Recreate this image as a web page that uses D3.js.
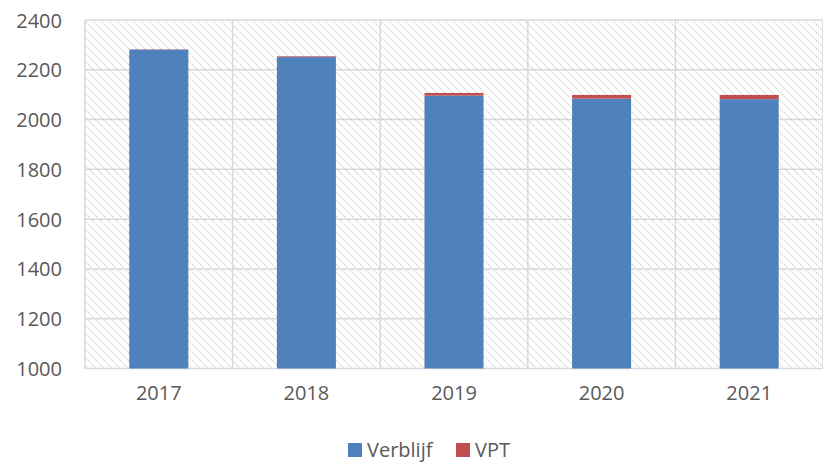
<!DOCTYPE html>
<html>
<head>
<meta charset="utf-8">
<script src="https://cdn.jsdelivr.net/npm/d3@7"></script>
<style>
  html, body { margin: 0; padding: 0; background: #fff; }
  svg text { font-family: "Open Sans", "Noto Sans", sans-serif; fill: #595959; }
</style>
</head>
<body>
<svg id="chart" width="823" height="464"></svg>
<script>
// Chart data
const years = ["2017", "2018", "2019", "2020", "2021"];
const verblijf = [2281, 2251, 2096, 2084, 2082];
const vpt = [1, 3, 11, 15, 17];
const yTicks = [1000, 1200, 1400, 1600, 1800, 2000, 2200, 2400];
const seriesNames = ["Verblijf", "VPT"];
const seriesColors = ["#4f81bd", "#c0504d"];

const svg = d3.select("#chart");
const plot = { left: 85, right: 823, top: 20, bottom: 368.5 };

// Diagonal hatch for plot background
const defs = svg.append("defs");
const pat = defs.append("pattern")
  .attr("id", "hatch")
  .attr("patternUnits", "userSpaceOnUse")
  .attr("width", 8).attr("height", 8);
pat.append("path")
  .attr("d", "M-2,-2 L10,10 M-2,6 L2,10 M6,-2 L10,2")
  .attr("stroke", "#cfcfcf")
  .attr("stroke-width", 1.4)
  .attr("stroke-dasharray", "1.4,1.4");

const x = d3.scaleBand()
  .domain(years)
  .range([plot.left, plot.right])
  .paddingInner(0.6)
  .paddingOuter(0.3);

const y = d3.scaleLinear()
  .domain([1000, 2400])
  .range([plot.bottom, plot.top]);

svg.append("rect")
  .attr("x", plot.left).attr("y", plot.top)
  .attr("width", plot.right - plot.left)
  .attr("height", plot.bottom - plot.top)
  .attr("fill", "url(#hatch)");

// Horizontal gridlines
svg.append("g")
  .selectAll("line")
  .data(yTicks)
  .join("line")
  .attr("x1", plot.left).attr("x2", plot.right)
  .attr("y1", d => y(d)).attr("y2", d => y(d))
  .attr("stroke", "#d9d9d9")
  .attr("stroke-width", 1.5);

// Vertical gridlines at category boundaries
const step = x.step();
const bounds = d3.range(years.length + 1).map(i => plot.left + i * step);
svg.append("g")
  .selectAll("line")
  .data(bounds)
  .join("line")
  .attr("x1", d => d).attr("x2", d => d)
  .attr("y1", plot.top).attr("y2", plot.bottom)
  .attr("stroke", "#d9d9d9")
  .attr("stroke-width", 1.5);

// Stacked bars
const rows = years.map((yr, i) => ({ year: yr, Verblijf: verblijf[i], VPT: vpt[i] }));
const stack = d3.stack().keys(seriesNames);
const layers = stack(rows);

svg.append("g")
  .selectAll("g")
  .data(layers)
  .join("g")
  .attr("fill", (d, i) => seriesColors[i])
  .selectAll("rect")
  .data(d => d)
  .join("rect")
  .attr("x", d => x(d.data.year))
  .attr("width", x.bandwidth())
  .attr("y", d => y(d[1]))
  .attr("height", d => y(Math.max(d[0], 1000)) - y(d[1]));

// Y axis labels
const yAxis = d3.axisLeft(y).tickValues(yTicks).tickFormat(d3.format("d")).tickSize(0).tickPadding(0);
const gy = svg.append("g")
  .attr("transform", `translate(62,0)`)
  .call(yAxis);
gy.select(".domain").remove();
gy.selectAll("text")
  .attr("font-size", 20)
  .attr("dy", "0.35em")
  .style("font-family", '"Open Sans", sans-serif')
  .attr("fill", "#595959");

// X axis labels
const xAxis = d3.axisBottom(x).tickSize(0).tickPadding(0);
const gx = svg.append("g")
  .attr("transform", `translate(0,${plot.bottom + 17})`)
  .call(xAxis);
gx.select(".domain").remove();
gx.selectAll("text")
  .attr("font-size", 20)
  .style("font-family", '"Open Sans", sans-serif')
  .attr("fill", "#595959");

// Legend
const legendItems = [
  { name: seriesNames[0], color: seriesColors[0], x: 348 },
  { name: seriesNames[1], color: seriesColors[1], x: 456 }
];
const lg = svg.append("g");
legendItems.forEach(item => {
  lg.append("rect")
    .attr("x", item.x).attr("y", 443)
    .attr("width", 14).attr("height", 14)
    .attr("fill", item.color);
  lg.append("text")
    .attr("x", item.x + 19).attr("y", 457)
    .attr("font-size", 20)
    .text(item.name);
});
</script>
</body>
</html>
